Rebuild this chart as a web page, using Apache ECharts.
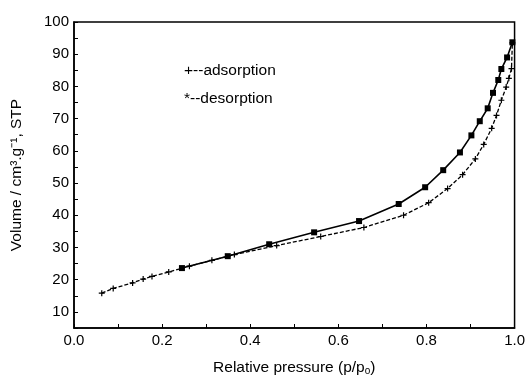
<!DOCTYPE html>
<html><head><meta charset="utf-8">
<script src="https://cdn.jsdelivr.net/npm/echarts@6/dist/echarts.min.js"></script>
<style>html,body{margin:0;padding:0;background:#fff}#c{width:528px;height:381px}</style>
</head><body><div id="c"></div>
<script>
// Data
const adsP = [0.063,0.089,0.133,0.157,0.177,0.215,0.262,0.313,0.364,0.460,0.560,0.658,0.748,0.805,0.848,0.882,0.911,0.930,0.948,0.959,0.970,0.981,0.987,0.993,0.995];
const adsV = [15.8,17.3,19.0,20.2,21.0,22.4,24.2,26.0,27.8,30.6,33.4,36.2,40.0,43.9,48.3,52.6,57.5,62.0,67.0,71.0,75.7,79.8,82.5,85.5,93.5];
const desP = [0.995,0.983,0.970,0.963,0.951,0.939,0.921,0.902,0.876,0.838,0.797,0.737,0.647,0.545,0.443,0.349,0.245];
const desV = [93.7,89.0,85.4,82.0,78.0,73.2,69.2,64.8,59.5,54.0,48.7,43.5,38.2,34.7,31.0,27.3,23.6];
const legendLines = ['+--adsorption', '*--desorption'];
const xTitle = 'Relative pressure (p/p{sub|o})';
const yTitle = 'Volume / cm\u00B3.g\u207B\u00B9, STP';

const font = '"Liberation Sans", Arial, sans-serif';
const chart = echarts.init(document.getElementById('c'));
const plus = 'path://M4,0h2v4h4v2h-4v4h-2v-4h-4v-2h4z';
chart.setOption({
  animation: false,
  grid: {left: 74, right: 11, top: 22, bottom: 47, show: true, borderColor: '#000', borderWidth: 1.5},
  xAxis: {
    type: 'value', min: 0, max: 1, interval: 0.1,
    name: xTitle, nameLocation: 'middle', nameGap: 31,
    nameTextStyle: {color: '#000', fontSize: 15.5, fontFamily: font,
      rich: {sub: {fontSize: 10, verticalAlign: 'bottom', padding: [7,0,0,0], color: '#000', fontFamily: font}}},
    axisLine: {lineStyle: {color: '#000', width: 1.5}},
    axisTick: {inside: true, length: 4, lineStyle: {color: '#000'}},
    splitLine: {show: false},
    axisLabel: {color: '#000', fontSize: 15, fontFamily: font, margin: 5,
      formatter: v => (Math.round(v*10) % 2 === 0 ? v.toFixed(1) : '')}
  },
  yAxis: {
    type: 'value', min: 5, max: 100, interval: 5,
    name: yTitle, nameLocation: 'middle', nameGap: 49,
    nameTextStyle: {color: '#000', fontSize: 15.5, fontFamily: font},
    axisLine: {lineStyle: {color: '#000', width: 1.5}},
    axisTick: {inside: true, length: 4, lineStyle: {color: '#000'}},
    splitLine: {show: false},
    axisLabel: {color: '#000', fontSize: 15, fontFamily: font, margin: 5,
      formatter: v => (Math.round(v) % 10 === 0 ? String(Math.round(v)) : '')}
  },
  graphic: [
    {type: 'text', left: 184, top: 63, style: {text: legendLines[0], fill: '#000', font: '15.5px ' + font}},
    {type: 'text', left: 184, top: 91, style: {text: legendLines[1], fill: '#000', font: '15.5px ' + font}}
  ],
  series: [
    {type: 'line', data: adsP.map((p,i)=>[p, adsV[i]]), symbol: plus, symbolSize: 6,
     lineStyle: {color: '#000', width: 1.3, type: [4,2]}, itemStyle: {color: '#000'}},
    {type: 'line', data: desP.map((p,i)=>[p, desV[i]]), symbol: 'rect', symbolSize: 6,
     lineStyle: {color: '#000', width: 1.6}, itemStyle: {color: '#000'}}
  ]
});
</script></body></html>
